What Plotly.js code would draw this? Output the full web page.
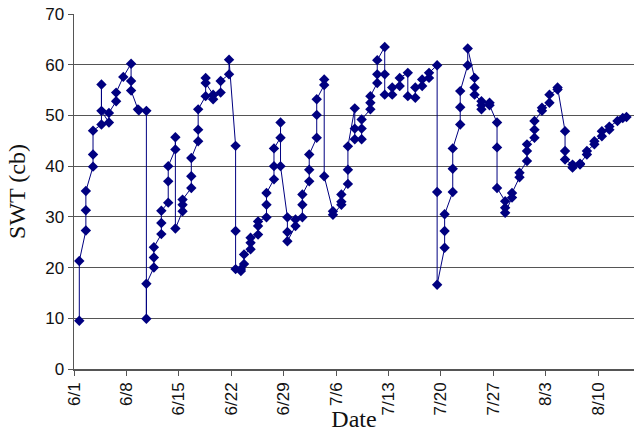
<!DOCTYPE html>
<html>
<head>
<meta charset="utf-8">
<script src="https://cdn.plot.ly/plotly-3.0.1.min.js"></script>
<style>html,body{margin:0;padding:0;background:#fff;}#chart{width:634px;height:432px;}</style>
</head>
<body>
<div id="chart"></div>
<script>
// Reading times (date + hour) and soil water tension readings (cb)
const dates = [
  '2007-06-01 17:00','2007-06-01 17:00',
  '2007-06-02 14:00','2007-06-02 14:00','2007-06-02 14:00',
  '2007-06-03 13:00','2007-06-03 13:00','2007-06-03 13:00',
  '2007-06-04 16:00','2007-06-04 16:00','2007-06-04 16:00',
  '2007-06-05 16:00','2007-06-05 16:00',
  '2007-06-06 15:00','2007-06-06 15:00',
  '2007-06-07 14:00',
  '2007-06-08 15:00','2007-06-08 15:00','2007-06-08 15:00',
  '2007-06-09 13:00','2007-06-09 16:00',
  '2007-06-10 16:00','2007-06-10 16:00','2007-06-10 16:00',
  '2007-06-11 16:00','2007-06-11 16:00','2007-06-11 16:00',
  '2007-06-12 16:00','2007-06-12 16:00','2007-06-12 16:00',
  '2007-06-13 14:00','2007-06-13 14:00','2007-06-13 14:00',
  '2007-06-14 13:00','2007-06-14 13:00','2007-06-14 13:00',
  '2007-06-15 12:00','2007-06-15 12:00','2007-06-15 12:00',
  '2007-06-16 16:00','2007-06-16 16:00','2007-06-16 16:00',
  '2007-06-17 14:00','2007-06-17 14:00','2007-06-17 14:00',
  '2007-06-18 14:00','2007-06-18 14:00','2007-06-18 14:00',
  '2007-06-19 14:00','2007-06-19 14:00',
  '2007-06-20 14:00','2007-06-20 14:00',
  '2007-06-21 17:00','2007-06-21 17:00',
  '2007-06-22 14:00','2007-06-22 14:00','2007-06-22 14:00',
  '2007-06-23 07:00','2007-06-23 07:00',
  '2007-06-23 17:00','2007-06-23 17:00',
  '2007-06-24 14:00','2007-06-24 14:00','2007-06-24 14:00',
  '2007-06-25 14:00','2007-06-25 14:00','2007-06-25 14:00',
  '2007-06-26 17:00','2007-06-26 17:00','2007-06-26 17:00',
  '2007-06-27 17:00','2007-06-27 17:00','2007-06-27 17:00',
  '2007-06-28 14:00','2007-06-28 14:00','2007-06-28 14:00',
  '2007-06-29 12:00','2007-06-29 12:00','2007-06-29 12:00',
  '2007-06-30 14:00','2007-06-30 14:00',
  '2007-07-01 12:00','2007-07-01 12:00','2007-07-01 12:00',
  '2007-07-02 10:00','2007-07-02 10:00','2007-07-02 10:00',
  '2007-07-03 10:00','2007-07-03 10:00','2007-07-03 10:00',
  '2007-07-04 10:00','2007-07-04 10:00','2007-07-04 10:00',
  '2007-07-05 14:00','2007-07-05 14:00',
  '2007-07-06 17:00','2007-07-06 17:00','2007-07-06 17:00',
  '2007-07-07 14:00','2007-07-07 14:00','2007-07-07 14:00',
  '2007-07-08 12:00','2007-07-08 12:00','2007-07-08 12:00',
  '2007-07-09 10:00','2007-07-09 10:00','2007-07-09 10:00',
  '2007-07-10 14:00','2007-07-10 14:00','2007-07-10 14:00',
  '2007-07-11 12:00','2007-07-11 12:00','2007-07-11 12:00',
  '2007-07-12 12:00','2007-07-12 12:00','2007-07-12 12:00',
  '2007-07-13 12:00','2007-07-13 12:00',
  '2007-07-14 12:00','2007-07-14 12:00',
  '2007-07-15 14:00','2007-07-15 14:00',
  '2007-07-16 14:00','2007-07-16 14:00',
  '2007-07-17 12:00','2007-07-17 12:00',
  '2007-07-18 10:00','2007-07-18 10:00',
  '2007-07-19 12:00','2007-07-19 12:00','2007-07-19 12:00',
  '2007-07-20 12:00','2007-07-20 12:00','2007-07-20 12:00',
  '2007-07-21 14:00','2007-07-21 14:00','2007-07-21 14:00',
  '2007-07-22 14:00','2007-07-22 14:00','2007-07-22 14:00',
  '2007-07-23 14:00','2007-07-23 14:00',
  '2007-07-24 12:00','2007-07-24 12:00','2007-07-24 12:00',
  '2007-07-25 10:00','2007-07-25 10:00','2007-07-25 10:00',
  '2007-07-26 12:00','2007-07-26 12:00',
  '2007-07-27 12:00','2007-07-27 12:00','2007-07-27 12:00',
  '2007-07-28 14:00','2007-07-28 14:00','2007-07-28 14:00',
  '2007-07-29 12:00','2007-07-29 12:00',
  '2007-07-30 12:00','2007-07-30 12:00',
  '2007-07-31 12:00','2007-07-31 12:00','2007-07-31 12:00',
  '2007-08-01 12:00','2007-08-01 12:00','2007-08-01 12:00',
  '2007-08-02 12:00','2007-08-02 12:00',
  '2007-08-03 12:00','2007-08-03 12:00',
  '2007-08-04 14:00','2007-08-04 14:00',
  '2007-08-05 14:00','2007-08-05 14:00','2007-08-05 14:00',
  '2007-08-06 14:00','2007-08-06 14:00',
  '2007-08-07 14:00','2007-08-07 14:00',
  '2007-08-08 12:00','2007-08-08 12:00',
  '2007-08-09 12:00','2007-08-09 12:00',
  '2007-08-10 12:00','2007-08-10 12:00',
  '2007-08-11 12:00','2007-08-11 12:00',
  '2007-08-12 14:00',
  '2007-08-13 07:00',
  '2007-08-13 19:00'
];
const swt = [
  9.5, 21.3,
  27.3, 31.3, 35.1,
  39.9, 42.3, 47.0,
  48.2, 56.1, 50.9,
  48.6, 50.5,
  52.8, 54.5,
  57.6,
  60.2, 56.8, 54.9,
  51.2, 51.0,
  50.9, 9.9, 16.8,
  20.0, 22.0, 24.0,
  26.6, 28.8, 31.2,
  32.8, 37.0, 40.0,
  43.3, 45.7, 27.7,
  31.1, 32.4, 33.4,
  35.7, 38.0, 41.6,
  44.9, 47.2, 51.2,
  53.8, 57.4, 56.4,
  54.1, 53.2,
  54.5, 56.8,
  58.1, 61.0,
  44.0, 27.2, 19.7,
  19.7, 19.3,
  20.7, 22.6,
  23.6, 24.9, 25.9,
  26.5, 28.2, 29.1,
  29.9, 32.4, 34.7,
  37.4, 40.0, 43.5,
  45.6, 48.6, 40.0,
  29.9, 27.0, 25.2,
  28.2, 29.5,
  29.9, 32.4, 34.4,
  37.0, 39.3, 42.3,
  45.6, 50.1, 53.2,
  56.0, 57.1, 38.0,
  31.1, 30.4,
  32.4, 33.0, 34.4,
  36.5, 39.3, 43.9,
  51.4, 47.4, 45.3,
  45.3, 47.4, 49.2,
  51.2, 52.5, 53.8,
  56.4, 58.1, 60.9,
  63.5, 58.1, 54.1,
  54.1, 55.5,
  55.8, 57.4,
  58.4, 53.8,
  53.5, 55.5,
  55.8, 57.1,
  57.4, 58.4,
  59.9, 34.9, 16.6,
  23.9, 27.2, 30.5,
  34.9, 39.5, 43.5,
  48.2, 51.6, 54.8,
  59.9, 63.2,
  57.4, 55.5, 54.1,
  52.8, 51.2, 52.0,
  52.5, 52.0,
  48.6, 43.7, 35.7,
  33.1, 31.8, 30.8,
  33.8, 34.7,
  37.8, 38.7,
  41.0, 43.0, 44.3,
  45.6, 47.2, 48.9,
  50.9, 51.5,
  52.5, 54.1,
  55.1, 55.5,
  46.9, 43.0, 41.3,
  40.3, 39.7,
  40.3, 40.5,
  42.3, 43.0,
  44.3, 44.9,
  45.9, 46.9,
  47.2, 47.8,
  48.9,
  49.5,
  49.7
];
const yTicks = [0, 10, 20, 30, 40, 50, 60, 70];
const xTick0 = '2007-06-01';
const xRange = ['2007-06-01 00:00', '2007-08-14 19:00'];

const trace = {
  x: dates, y: swt, type: 'scatter', mode: 'lines+markers',
  line: {color: '#000080', width: 1},
  marker: {symbol: 'diamond', size: 8, color: '#000080'},
  showlegend: false, cliponaxis: true
};

const layout = {
  width: 634, height: 432,
  margin: {l: 74, r: 0, t: 14, b: 63},
  paper_bgcolor: '#ffffff', plot_bgcolor: '#ffffff',
  xaxis: {
    type: 'date', range: xRange, tick0: xTick0, dtick: 7 * 86400000,
    tickformat: '%-m/%-d', tickangle: -90,
    ticks: 'outside', ticklen: 5, tickcolor: '#555',
    showline: true, linecolor: '#555', linewidth: 1.5,
    showgrid: false, zeroline: false,
    tickfont: {family: 'Liberation Sans, Arial, sans-serif', size: 17, color: '#111'},
    title: {text: 'Date', font: {family: 'Liberation Serif, Times New Roman, serif', size: 24, color: '#111'}, standoff: 2},
    automargin: false
  },
  yaxis: {
    range: [0, 70], tickvals: yTicks,
    ticks: 'outside', ticklen: 5, tickcolor: '#555',
    showline: true, linecolor: '#555', linewidth: 1.5,
    showgrid: true, gridcolor: '#555', gridwidth: 1,
    zeroline: false,
    tickfont: {family: 'Liberation Sans, Arial, sans-serif', size: 17, color: '#111'},
    title: {text: 'SWT (cb)', font: {family: 'Liberation Serif, Times New Roman, serif', size: 24, color: '#111'}, standoff: 13},
    automargin: false
  }
};

Plotly.newPlot('chart', [trace], layout, {displayModeBar: false, staticPlot: true});
</script>
</body>
</html>
